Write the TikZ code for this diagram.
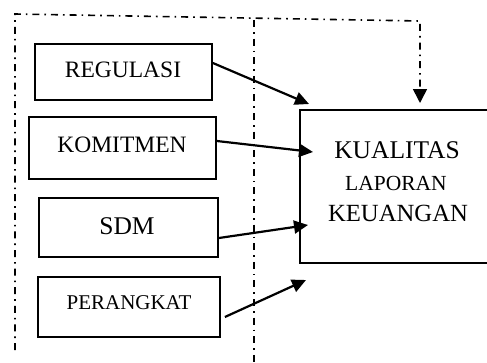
\documentclass[tikz,border=0pt]{standalone}
\usepackage{fontspec}
\setmainfont{Liberation Serif}
\usetikzlibrary{arrows.meta}
\begin{document}
\begin{tikzpicture}[x=1pt,y=-1pt,
  varbox/.style={draw,line width=1.8pt,rectangle,inner sep=0pt},
  arr/.style={line width=2.2pt,-{Triangle[length=14pt,width=13pt]}},
  dashdot/.style={line width=1.6pt,dash pattern=on 7pt off 5pt on 1.6pt off 5pt},
  lbl/.style={inner sep=0pt}]
\useasboundingbox (0,0) rectangle (487,362);
% boxes
\node[varbox,minimum width=177pt,minimum height=56pt] (reg) at (123.5,72) {};
\node[lbl,font=\fontsize{23.5}{25}\selectfont] at (123,70) {REGULASI};
\node[varbox,minimum width=187pt,minimum height=62pt] (kom) at (122.5,148) {};
\node[lbl,font=\fontsize{23.5}{25}\selectfont] at (122,145) {KOMITMEN};
\node[varbox,minimum width=179pt,minimum height=59pt] (sdm) at (128.5,227.5) {};
\node[lbl,font=\fontsize{25.5}{27}\selectfont] at (127,226) {SDM};
\node[varbox,minimum width=182pt,minimum height=60pt] (per) at (129,307) {};
\node[lbl,font=\fontsize{21}{23}\selectfont] at (129,303) {PERANGKAT};
% main box (cut off at right)
\node[varbox,minimum width=200pt,minimum height=153pt] (klk) at (400,186.5) {};
\node[lbl,font=\fontsize{25.5}{27}\selectfont] (k1) at (397,150) {KUALITAS};
\node[lbl,font=\fontsize{21.5}{23}\selectfont] (k2) at (396,183) {LAPORAN};
\node[lbl,font=\fontsize{24.7}{26}\selectfont] (k3) at (398,213) {KEUANGAN};
% arrow targets
\coordinate (t1) at (309,104);
\coordinate (t2) at (313,152);
\coordinate (t3) at (308,225);
\coordinate (t4) at (306,280);
\draw[arr] ([yshift=9pt]reg.east) -- (t1);
\draw[arr] ([yshift=7pt]kom.east) -- (t2);
\draw[arr] ([yshift=-10.5pt]sdm.east) -- (t3);
\draw[arr] ([xshift=4pt,yshift=-10pt]per.east) -- (t4);
% dash-dot lines
\coordinate (o1) at (15,350);
\coordinate (o2) at (15,14);
\coordinate (o3) at (420,21);
\coordinate (o4) at (420,90);
\coordinate (o5) at (420,103);
\draw[dashdot] (o1) -- (o2) -- (o3) -- (o4);
\draw[line width=1.6pt,-{Triangle[length=14pt,width=14pt]}] (o4) -- (o5);
\coordinate (m1) at (254,20);
\coordinate (m2) at (254,362);
\draw[dashdot] (m1) -- (m2);
\end{tikzpicture}
\end{document}
